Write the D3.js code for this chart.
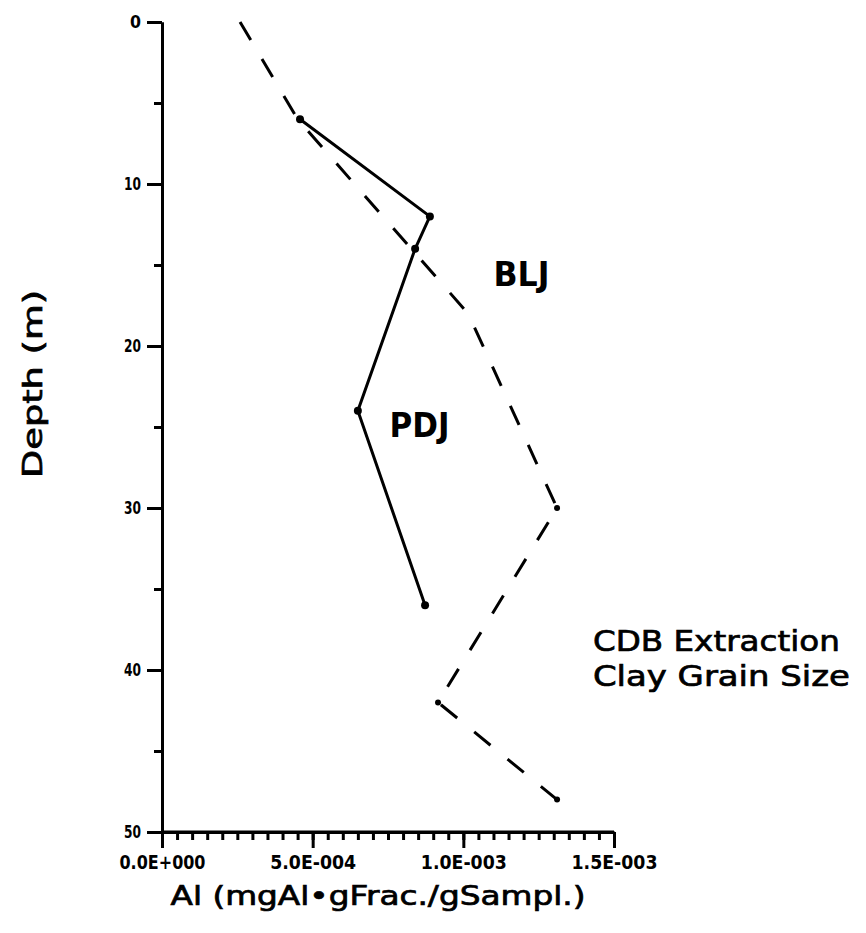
<!DOCTYPE html>
<meta charset='utf-8'>
<title>Al vs depth</title>
<style>

  body {
    margin: 0;
    background: #fff;
  }

  svg {
    display: block;
    font-family: 'DejaVu Sans', sans-serif;
  }

  .line {
    fill: none;
    stroke: #000;
    stroke-width: 3px;
    stroke-linejoin: round;
    stroke-linecap: round;
  }

  .dashed {
    stroke-dasharray: 21 22;
    stroke-linecap: butt;
  }

  .axis path, .axis line {
    stroke: #000;
    stroke-width: 3px;
  }

</style>
<body>

<script src='https://cdn.jsdelivr.net/npm/d3@7'></script>
<script>

  // PDJ, solid line
  var pdjDepth = [6, 12, 14, 24, 36]
  var pdjAl = [4.58e-4, 8.89e-4, 8.4e-4, 6.5e-4, 8.73e-4]

  // BLJ, dashed line
  var bljDepth = [0, 6, 18, 30, 42, 48]
  var bljAl = [2.59e-4, 4.5e-4, 1.016e-3, 1.311e-3, 9.16e-4, 1.311e-3]

  var depthTicks = [0, 10, 20, 30, 40, 50]
  var alTicks = [0, 5e-4, 1e-3, 1.5e-3]
  var alTickLabels = ['0.0E+000', '5.0E-004', '1.0E-003', '1.5E-003']
  var notes = ['CDB Extraction', 'Clay Grain Size']

  var width = 866,
  height = 933

  var svg = d3.select('body')
  .append('svg')
  .attr('width', width)
  .attr('height', height)

  var x = d3.scaleLinear()
  .domain([0, 1.5e-3])
  .range([162, 614])

  var y = d3.scaleLinear()
  .domain([0, 50])
  .range([22, 832])

  /* ------- AXES -------*/

  // minor ticks
  svg.append('g')
  .attr('class', 'axis')
  .attr('transform', 'translate(' + x(0) + ',0)')
  .call(d3.axisLeft(y).tickValues(d3.range(5, 50, 10)).tickSize(8).tickSizeOuter(0).tickFormat(''))

  svg.append('g')
  .attr('class', 'axis')
  .attr('transform', 'translate(0,' + y(50) + ')')
  .call(d3.axisBottom(x).tickValues(d3.range(0, 31).map(function(i) { return i * 5e-5 })).tickSize(8).tickSizeOuter(0).tickFormat(''))

  // major ticks with labels
  var yAxis = svg.append('g')
  .attr('class', 'axis')
  .attr('transform', 'translate(' + x(0) + ',0)')
  .call(d3.axisLeft(y).tickValues(depthTicks).tickSize(15).tickPadding(6).tickSizeOuter(0))

  yAxis.selectAll('text')
  .attr('font-size', 17)
  .attr('font-weight', 'bold')
  .attr('font-family', "'DejaVu Sans Condensed', sans-serif")
  .attr('textLength', function(d) { return d === 0 ? 11 : 17 })
  .attr('lengthAdjust', 'spacingAndGlyphs')

  var xAxis = svg.append('g')
  .attr('class', 'axis')
  .attr('transform', 'translate(0,' + y(50) + ')')
  .call(d3.axisBottom(x).tickValues(alTicks).tickSize(16).tickPadding(7).tickSizeOuter(0)
    .tickFormat(function(d, i) { return alTickLabels[i] }))

  xAxis.selectAll('text')
  .attr('font-size', 20)
  .attr('font-weight', 'bold')
  .attr('font-family', "'DejaVu Sans Condensed', sans-serif")
  .attr('textLength', 86)
  .attr('lengthAdjust', 'spacingAndGlyphs')

  xAxis.selectAll('.domain').remove()
  svg.append('line')
  .attr('x1', x(0)).attr('x2', x(1.5e-3))
  .attr('y1', y(50)).attr('y2', y(50))
  .attr('stroke', '#000').attr('stroke-width', 3)

  /* ------- AXIS TITLES -------*/

  svg.append('text')
  .attr('transform', 'translate(42,384) rotate(-90)')
  .attr('text-anchor', 'middle')
  .attr('font-size', 26)
  .attr('stroke', '#000')
  .attr('stroke-width', 0.7)
  .attr('textLength', 188)
  .attr('lengthAdjust', 'spacingAndGlyphs')
  .text('Depth (m)')

  svg.append('text')
  .attr('x', (x(0) + x(1.5e-3)) / 2 - 10)
  .attr('y', 905)
  .attr('text-anchor', 'middle')
  .attr('font-size', 26)
  .attr('stroke', '#000')
  .attr('stroke-width', 0.7)
  .attr('textLength', 415)
  .attr('lengthAdjust', 'spacingAndGlyphs')
  .text('Al (mgAl\u2022gFrac./gSampl.)')

  /* ------- LINES -------*/

  var line = d3.line()
  .x(function(d) { return x(d[0]) })
  .y(function(d) { return y(d[1]) })

  var blj = d3.zip(bljAl, bljDepth)
  var pdj = d3.zip(pdjAl, pdjDepth)

  svg.append('path')
  .datum(blj)
  .attr('class', 'line dashed')
  .attr('d', line)

  svg.append('path')
  .datum(pdj)
  .attr('class', 'line')
  .attr('d', line)

  svg.selectAll('circle.pdj')
  .data(pdj)
  .enter()
  .append('circle')
  .attr('class', 'pdj')
  .attr('cx', function(d) { return x(d[0]) })
  .attr('cy', function(d) { return y(d[1]) })
  .attr('r', 4)

  svg.selectAll('circle.blj')
  .data(blj.slice(3))
  .enter()
  .append('circle')
  .attr('class', 'blj')
  .attr('cx', function(d) { return x(d[0]) })
  .attr('cy', function(d) { return y(d[1]) })
  .attr('r', 3)

  /* ------- LABELS -------*/

  svg.append('text')
  .attr('x', x(1.1e-3))
  .attr('y', y(16.3))
  .attr('font-size', 34)
  .attr('font-weight', 'bold')
  .attr('textLength', 56)
  .attr('lengthAdjust', 'spacingAndGlyphs')
  .text('BLJ')

  svg.append('text')
  .attr('x', x(0.755e-3))
  .attr('y', y(25.6))
  .attr('font-size', 34)
  .attr('font-weight', 'bold')
  .attr('textLength', 60)
  .attr('lengthAdjust', 'spacingAndGlyphs')
  .text('PDJ')

  svg.selectAll('text.note')
  .data(notes)
  .enter()
  .append('text')
  .attr('class', 'note')
  .attr('x', x(1.43e-3))
  .attr('y', function(d, i) { return y(38.85 + i * 2.15) })
  .attr('font-size', 28)
  .attr('stroke', '#000')
  .attr('stroke-width', 0.7)
  .attr('textLength', function(d, i) { return i === 0 ? 247 : 257 })
  .attr('lengthAdjust', 'spacingAndGlyphs')
  .text(function(d) { return d })

</script>
</body>
